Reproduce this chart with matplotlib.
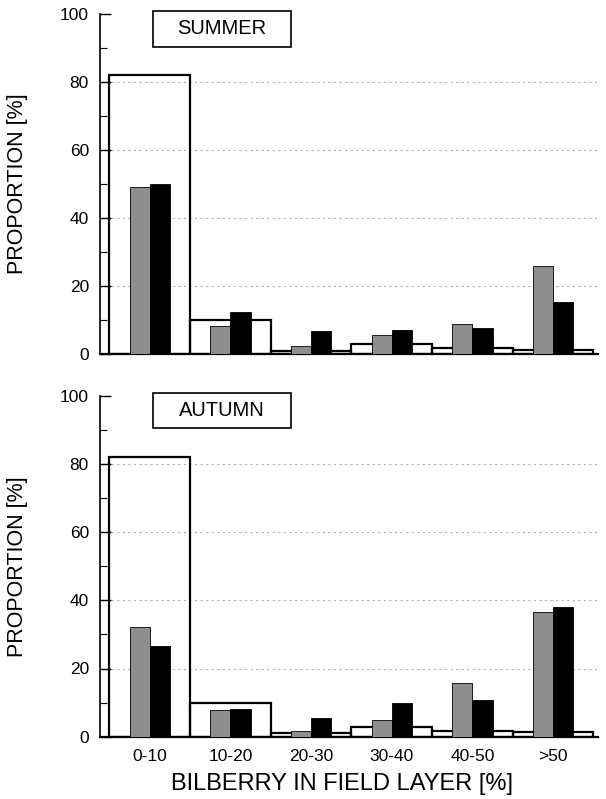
import matplotlib
matplotlib.use("Agg")
import matplotlib.pyplot as plt
from matplotlib.patches import Rectangle
from matplotlib.ticker import MultipleLocator
import numpy as np

plt.rcParams['font.family'] = ['Liberation Sans', 'DejaVu Sans']

categories = ["0-10", "10-20", "20-30", "30-40", "40-50", ">50"]

# Available habitat (wide open bars) and use by two groups (grey, black)
summer_available = [82, 10, 1.0, 3.0, 1.7, 1.2]
summer_grey = [49, 8.2, 2.4, 5.7, 8.7, 25.9]
summer_black = [50, 12.4, 6.9, 7.1, 7.7, 15.3]

autumn_available = [82, 10, 1.0, 2.9, 1.7, 1.3]
autumn_grey = [32.2, 7.8, 1.8, 4.8, 15.7, 36.7]
autumn_black = [26.6, 8.1, 5.6, 10.0, 10.8, 37.9]

seasons = ["SUMMER", "AUTUMN"]

W, H = 606, 799
fig = plt.figure(figsize=(W / 100, H / 100), dpi=100)

ax_top = fig.add_axes([100 / W, (H - 354) / H, 498 / W, 340 / H])
ax_bot = fig.add_axes([100 / W, (H - 736.7) / H, 498 / W, 341 / H])

x = np.arange(len(categories))
grey_col = "#8e8e8e"

panels = [
    (ax_top, summer_available, summer_grey, summer_black, seasons[0]),
    (ax_bot, autumn_available, autumn_grey, autumn_black, seasons[1]),
]

for ax, avail, grey, black, season in panels:
    ax.bar(x, avail, width=1.0, facecolor="none", edgecolor="black",
           linewidth=1.6, zorder=2)
    ax.bar(x - 0.125, grey, width=0.25, facecolor=grey_col, edgecolor="black",
           linewidth=0.6, zorder=3)
    ax.bar(x + 0.125, black, width=0.25, facecolor="black", edgecolor="black",
           linewidth=0.6, zorder=3)

    ax.set_xlim(-0.617, 5.556)
    ax.set_ylim(0, 100)
    ax.yaxis.set_major_locator(MultipleLocator(20))
    ax.yaxis.set_minor_locator(MultipleLocator(10))
    ax.tick_params(axis="y", which="major", direction="in", length=8,
                   width=1.0, labelsize=12.5, pad=8)
    ax.tick_params(axis="y", which="minor", direction="in", length=5, width=0.8)
    ax.tick_params(axis="x", length=0, labelsize=12.5, pad=9)
    ax.set_xticks(x)

    for y in (20, 40, 60, 80):
        ax.axhline(y, color="#b0b0b0", linestyle=(0, (2, 3)), linewidth=0.8,
                   zorder=1)

    for side in ("top", "right"):
        ax.spines[side].set_visible(False)
    ax.spines["left"].set_linewidth(1.2)
    ax.spines["bottom"].set_linewidth(1.6)

    ax.set_ylabel("PROPORTION [%]", fontsize=15.5)
    ax.yaxis.set_label_coords(-0.145, 0.5)

    box_bottom = 0.904
    box_top = 1.008
    ax.add_patch(Rectangle((0.106, box_bottom), 0.2775, box_top - box_bottom,
                           transform=ax.transAxes, facecolor="white",
                           edgecolor="black", linewidth=1.2, clip_on=False,
                           zorder=5))
    ax.text(0.106 + 0.2775 / 2, (box_bottom + box_top) / 2, season,
            transform=ax.transAxes, ha="center", va="center", fontsize=14.5,
            zorder=6)

ax_top.set_xticklabels([])
ax_bot.set_xticklabels(categories)
ax_bot.set_xlabel("BILBERRY IN FIELD LAYER [%]", fontsize=17)
ax_bot.xaxis.set_label_coords(0.485, -0.105)

fig.savefig("out.png", dpi=100)
